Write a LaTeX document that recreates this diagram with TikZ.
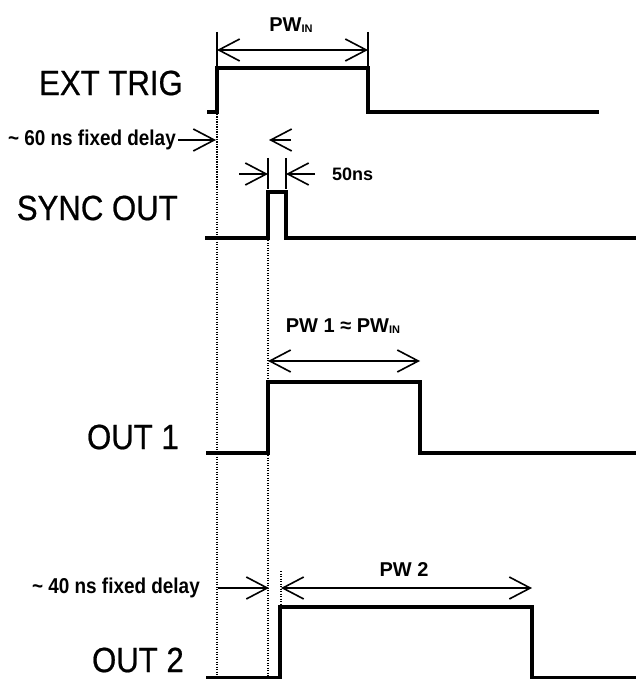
\documentclass[tikz,border=0pt]{standalone}
\usepackage{fontspec}
\setmainfont{Liberation Sans}
\newfontfamily\sigfont[FakeStretch=0.89,FakeBold=0.6]{Liberation Sans}
\newfontfamily\labfont[FakeStretch=0.88]{Liberation Sans}
\usetikzlibrary{arrows.meta}
\newcommand{\subIN}{\raisebox{-1.5pt}{\fontsize{11}{11}\selectfont\bfseries IN}}
\begin{document}
\begin{tikzpicture}[x=1pt,y=-1pt,
  wave/.style={line width=3.4pt, line join=miter},
  guide/.style={line width=1.3pt, dash pattern=on 1.2pt off 1.3pt},
  tick/.style={line width=1.5pt},
  dimr/.style={line width=1.5pt, -{Straight Barb[length=21pt,width=22pt,line width=1.6pt]}},
  dimb/.style={line width=1.5pt, {Straight Barb[length=21pt,width=22pt,line width=1.6pt]}-{Straight Barb[length=21pt,width=22pt,line width=1.6pt]}},
  sig/.style={font=\sigfont\fontsize{35}{35}\selectfont, anchor=east, inner sep=0pt},
  lab/.style={font=\labfont\fontsize{21.5}{21.5}\selectfont\bfseries, inner sep=0pt},
  blab/.style={font=\fontsize{20}{20}\selectfont\bfseries, inner sep=0pt},
]
\useasboundingbox (0,0) rectangle (636,679);

% signal names
\node[sig] (ext)  at (183,83)  {EXT TRIG};
\node[sig] (sync) at (178,208) {SYNC OUT};
\node[sig] (o1)   at (179,437) {OUT 1};
\node[sig] (o2)   at (184,660) {OUT 2};

% waveforms
\draw[wave] (207,112) -- (217,112) -- (217,68) -- (368,68) -- (368,112) -- (599,112);
\draw[wave] (205,238) -- (268,238) -- (268,192) -- (286,192) -- (286,238) -- (636,238);
\draw[wave] (206,453) -- (268,453) -- (268,382) -- (420,382) -- (420,453) -- (636,453);
\draw[wave] (206,678) -- (280,678) -- (280,607) -- (532,607) -- (532,678) -- (636,678);

% dotted guides
\coordinate (g1t) at (217,114); \coordinate (g1b) at (217,679);
\coordinate (g2t) at (268,240); \coordinate (g2b) at (268,679);
\coordinate (g3t) at (281,571); \coordinate (g3b) at (281,607);
\draw[guide] (g1t) -- (g1b);
\draw[guide] (g2t) -- (g2b);
\draw[guide] (g3t) -- (g3b);

% PW_IN
\coordinate (pa1) at (217,32); \coordinate (pa2) at (217,66);
\coordinate (pb1) at (368,32); \coordinate (pb2) at (368,66);
\draw[tick] (pa1) -- (pa2);
\draw[tick] (pb1) -- (pb2);
\coordinate (pinl) at (217,50); \coordinate (pinr) at (368,50);
\draw[dimb] (pinl) -- (pinr);
\node[blab] (pwin) at (291,25) {PW\subIN};

% ~60 ns fixed delay
\node[lab, anchor=east] (d60) at (176,140) {\char"007E\ 60 ns fixed delay};
\coordinate (d60a) at (178,140); \coordinate (d60b) at (216,140);
\draw[dimr] (d60a) -- (d60b);
\coordinate (d60c) at (291,140); \coordinate (d60d) at (269,140);
\draw[dimr] (d60c) -- (d60d);

% 50ns
\coordinate (sa1) at (268,158); \coordinate (sa2) at (268,189);
\coordinate (sb1) at (286,158); \coordinate (sb2) at (286,189);
\draw[tick] (sa1) -- (sa2);
\draw[tick] (sb1) -- (sb2);
\coordinate (s50a) at (239,174); \coordinate (s50b) at (268,174);
\coordinate (s50c) at (315,174); \coordinate (s50d) at (286,174);
\draw[dimr] (s50a) -- (s50b);
\draw[dimr] (s50c) -- (s50d);
\node[blab, anchor=west, font=\fontsize{18}{18}\selectfont\bfseries] (ns50) at (332,174) {50ns};

% PW1
\coordinate (p1l) at (268,361); \coordinate (p1r) at (420,361);
\draw[dimb] (p1l) -- (p1r);
\node[blab] (pw1) at (343,326) {PW 1 \char"2248\ PW\subIN};

% ~40 ns fixed delay
\node[lab, anchor=east] (d40) at (200,588) {\char"007E\ 40 ns fixed delay};
\coordinate (d40a) at (218,588); \coordinate (d40b) at (269,588);
\draw[dimr] (d40a) -- (d40b);

% PW2
\coordinate (p2l) at (281,588); \coordinate (p2r) at (532,588);
\draw[dimb] (p2l) -- (p2r);
\node[blab] (pw2) at (404,570) {PW 2};
\end{tikzpicture}
\end{document}
